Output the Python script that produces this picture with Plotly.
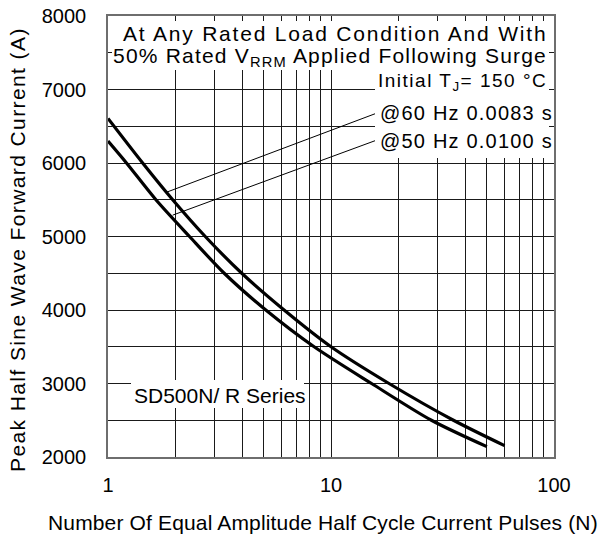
import numpy as np
import plotly.graph_objects as go

# ---- data ----
n_60hz = [1, 1.43, 1.95, 2.73, 3.98, 6.16, 10, 18.2, 35.4, 60]
i_60hz = [6606, 6000, 5500, 5000, 4500, 4000, 3500, 3000, 2500, 2155]
n_50hz = [1, 1.21, 1.64, 2.32, 3.32, 5.10, 8.4, 15.2, 28.2, 50]
i_50hz = [6298, 6000, 5500, 5000, 4500, 4000, 3500, 3000, 2500, 2141]

x_major = [1, 10, 100]
x_major_text = ["1", "10", "100"]
x_minor = [2, 3, 4, 5, 6, 7, 8, 9, 20, 30, 40, 50, 60, 70, 80, 90]
y_major = [2000, 3000, 4000, 5000, 6000, 7000, 8000]

# leader-line attachment N on each curve, and label anchor points
lead_n_60, lead_n_50 = 1.83, 1.95
label_n = 16.08
label_i_60, label_i_50 = 6680, 6313

FONT = "Liberation Sans, Arial, sans-serif"
W, H = 602, 539
ML, MR, MT, MB = 108, 48, 16, 82
PW, PH = W - ML - MR, H - MT - MB


def px(x):
    return (x - ML) / PW


def py(y):
    return (H - MB - y) / PH


def sp(t, ls):
    return f'<span style="letter-spacing:{ls}px">{t}</span>'


def on_curve(n, ns, vals):
    return float(np.interp(np.log10(n), np.log10(ns), vals))


fig = go.Figure()
fig.add_trace(go.Scatter(x=n_60hz, y=i_60hz, mode="lines",
                         line=dict(color="black", width=3.2, shape="spline", smoothing=0.8),
                         showlegend=False, hoverinfo="skip"))
fig.add_trace(go.Scatter(x=n_50hz, y=i_50hz, mode="lines",
                         line=dict(color="black", width=3.2, shape="spline", smoothing=0.8),
                         showlegend=False, hoverinfo="skip"))

# leader lines
fig.add_trace(go.Scatter(x=[lead_n_60, label_n],
                         y=[on_curve(lead_n_60, n_60hz, i_60hz), label_i_60],
                         mode="lines", line=dict(color="black", width=1),
                         showlegend=False, hoverinfo="skip"))
fig.add_trace(go.Scatter(x=[lead_n_50, label_n],
                         y=[on_curve(lead_n_50, n_50hz, i_50hz) + 40, label_i_50],
                         mode="lines", line=dict(color="black", width=1),
                         showlegend=False, hoverinfo="skip"))

# white masks behind the text blocks
for x0, x1, y0, y1 in [(112, 549, 21, 70), (375, 549, 70, 158), (131, 304, 380, 408)]:
    fig.add_shape(type="rect", xref="paper", yref="paper",
                  x0=px(x0), x1=px(x1), y0=py(y1), y1=py(y0),
                  fillcolor="white", line=dict(width=0), layer="above")

ann = [
    dict(text=sp("At Any Rated Load Condition And With", 1.8), x=px(549), y=py(33),
         xanchor="right", size=21),
    dict(text=sp("50% Rated V<sub>RRM</sub> Applied Following Surge", 1.2), x=px(549), y=py(57),
         xanchor="right", size=21),
    dict(text=sp("Initial T<sub>J</sub>= 150 °C", 1.5), x=px(549), y=py(82),
         xanchor="right", size=19),
    dict(text=sp("@60 Hz 0.0083 s", 1.2), x=px(378), y=py(113),
         xanchor="left", size=20),
    dict(text=sp("@50 Hz 0.0100 s", 1.2), x=px(378), y=py(141),
         xanchor="left", size=20),
    dict(text="SD500N/ R Series", x=px(132), y=py(395),
         xanchor="left", size=21),
    dict(text=sp("Number Of Equal Amplitude Half Cycle Current Pulses (N)", 0.15), x=px(323), y=py(522),
         xanchor="center", size=21),
]
for a in ann:
    fig.add_annotation(text=a["text"], x=a["x"], y=a["y"], xref="paper", yref="paper",
                       xanchor=a["xanchor"], yanchor="middle", showarrow=False,
                       font=dict(family=FONT, size=a["size"], color="black"))

fig.add_annotation(text=sp("Peak Half Sine Wave Forward Current (A)", 1.4),
                   x=px(18), y=py(250), xref="paper", yref="paper",
                   xanchor="center", yanchor="middle", textangle=-90, showarrow=False,
                   font=dict(family=FONT, size=21, color="black"))

GRID = "#1a1a1a"
fig.update_xaxes(type="log", range=[0, 2], tickvals=x_major, ticktext=x_major_text,
                 showgrid=True, gridcolor=GRID, gridwidth=1,
                 ticks="inside", ticklen=5, tickcolor=GRID,
                 minor=dict(tickvals=x_minor, showgrid=True, gridcolor=GRID, gridwidth=1,
                            ticks="inside", ticklen=5, tickcolor=GRID),
                 showline=True, linecolor="#6e6e6e", linewidth=1.5, mirror="ticks",
                 tickfont=dict(family=FONT, size=20, color="black"),
                 ticklabelstandoff=9, zeroline=False)
fig.update_yaxes(range=[2000, 8000], tickvals=y_major,
                 showgrid=True, gridcolor=GRID, gridwidth=1,
                 ticks="inside", ticklen=5, tickcolor=GRID,
                 minor=dict(dtick=500, showgrid=True, gridcolor=GRID, gridwidth=1,
                            ticks="inside", ticklen=5, tickcolor=GRID),
                 showline=True, linecolor="#6e6e6e", linewidth=1.5, mirror="ticks",
                 tickfont=dict(family=FONT, size=20, color="black"),
                 ticklabelstandoff=16, zeroline=False)

fig.update_layout(width=W, height=H, margin=dict(l=ML, r=MR, t=MT, b=MB, autoexpand=False),
                  paper_bgcolor="white", plot_bgcolor="white", showlegend=False,
                  font=dict(family=FONT, color="black"))

fig.write_html("out.html", config={"displayModeBar": False},
               post_script="document.body.style.margin='0px';document.body.style.overflow='hidden';")
